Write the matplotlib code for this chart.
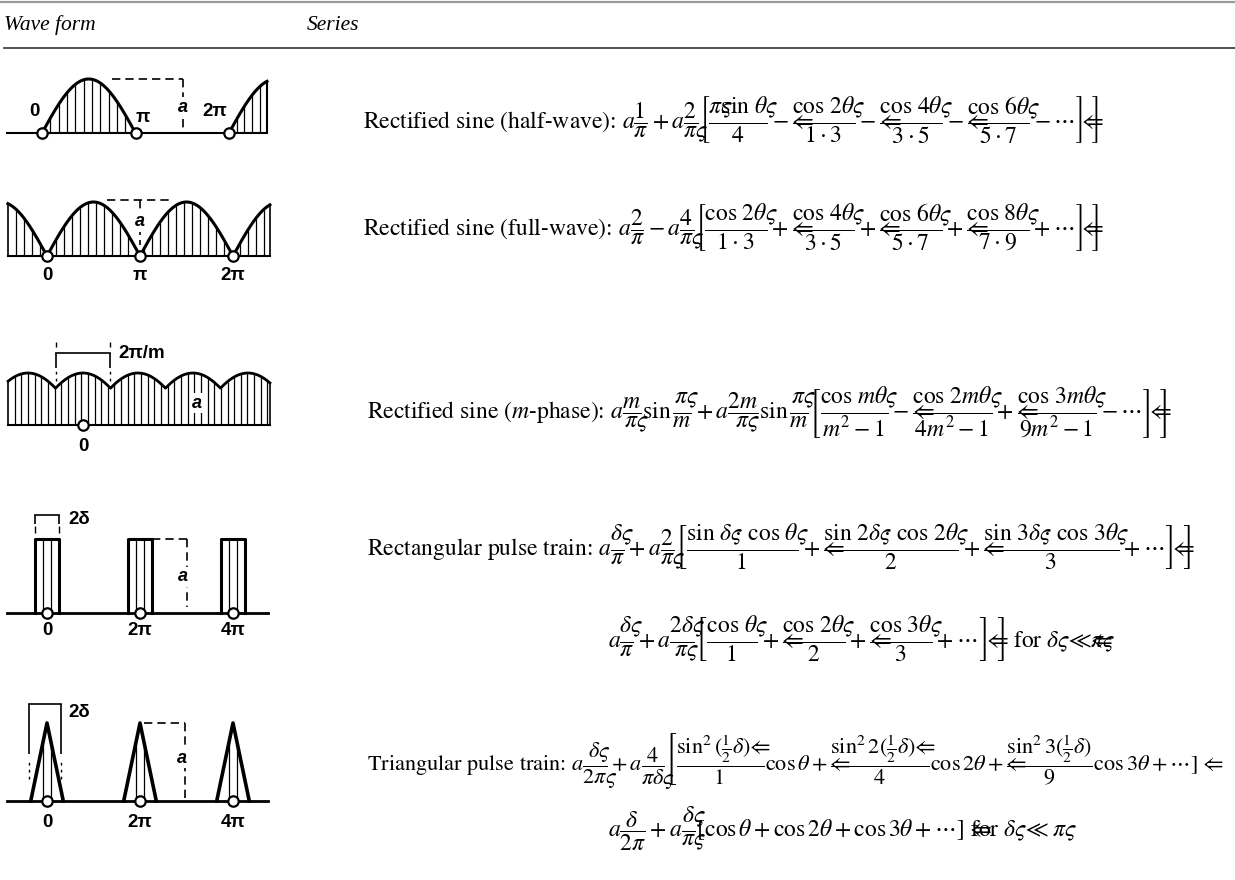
import numpy as np
import matplotlib.pyplot as plt

plt.rcParams['mathtext.fontset'] = 'stix'
plt.rcParams['font.family'] = ['STIXGeneral', 'DejaVu Serif']

W, H = 1235, 880

# ---- table text ----
headers = ['Wave form', 'Series']

S = r'\varsigma\hspace{-0.6}'          # stray ς, printed over the next sign
A = r'⇐\hspace{-1.25}'                 # stray ⇐, printed over the next sign
R = r'\right]\hspace{-0.2}⇐\hspace{-0.7}\right]'    # closing ]⇐]

series_lines = [
    r'Rectified sine (half-wave): $a\dfrac{1}{\pi}+a\dfrac{2}{\pi' + S + r'}\left.\left[\dfrac{\pi' + S
    + r'\sin\,\theta' + S + r'}{4}-' + A + r'\dfrac{\cos\,2\theta' + S + r'}{1\cdot 3}-' + A
    + r'\dfrac{\cos\,4\theta' + S + r'}{3\cdot 5}-' + A + r'\dfrac{\cos\,6\theta' + S
    + r'}{5\cdot 7}-\cdots' + R + '$',

    r'Rectified sine (full-wave): $a\dfrac{2}{\pi}-a\dfrac{4}{\pi' + S + r'}\left.\left[\dfrac{\cos\,2\theta' + S
    + r'}{1\cdot 3}+' + A + r'\dfrac{\cos\,4\theta' + S + r'}{3\cdot 5}+' + A + r'\dfrac{\cos\,6\theta' + S
    + r'}{5\cdot 7}+' + A + r'\dfrac{\cos\,8\theta' + S + r'}{7\cdot 9}+\cdots' + R + '$',

    r'Rectified sine ($m$-phase): $a\dfrac{m}{\pi' + S + r'}\sin\dfrac{\pi' + S + r'}{m}+a\dfrac{2m}{\pi' + S
    + r'}\sin\dfrac{\pi' + S + r'}{m}\left.\left[\dfrac{\cos\,m\theta' + S + r'}{m^2-1}-' + A
    + r'\dfrac{\cos\,2m\theta' + S + r'}{4m^2-1}+' + A + r'\dfrac{\cos\,3m\theta' + S
    + r'}{9m^2-1}-\cdots' + R + '$',

    r'Rectangular pulse train: $a\dfrac{\delta' + S + r'}{\pi}+a\dfrac{2}{\pi' + S + r'}\left.\left[\dfrac{\sin\,\delta'
    + S + r'\cdot\,\cos\,\theta' + S + r'}{1}+' + A + r'\dfrac{\sin\,2\delta' + S + r'\cdot\,\cos\,2\theta' + S
    + r'}{2}+' + A + r'\dfrac{\sin\,3\delta' + S + r'\cdot\,\cos\,3\theta' + S + r'}{3}+\cdots' + R + '$',

    r'$a\dfrac{\delta' + S + r'}{\pi}+a\dfrac{2\delta' + S + r'}{\pi' + S + r'}\left.\left[\dfrac{\cos\,\theta' + S
    + r'}{1}+' + A + r'\dfrac{\cos\,2\theta' + S + r'}{2}+' + A + r'\dfrac{\cos\,3\theta' + S
    + r'}{3}+\cdots' + R + r'$ for $\delta\varsigma≪' + A + r'\pi\varsigma$',

    r'Triangular pulse train: $a\dfrac{\delta' + S + r'}{2\pi' + S + r'}+a\dfrac{4}{\pi\delta' + S
    + r'}\left[\dfrac{\sin^2(\frac{1}{2}\delta)⇐\hspace{-0.5}}{1}\cos\theta+' + A
    + r'\dfrac{\sin^2 2(\frac{1}{2}\delta)⇐\hspace{-0.5}}{4}\cos 2\theta+' + A
    + r'\dfrac{\sin^2 3(\frac{1}{2}\delta)}{9}\cos 3\theta+\cdots\right.]\ ⇐$',

    r'$a\dfrac{\delta}{2\pi}+a\dfrac{\delta' + S + r'}{\pi' + S
    + r'}[\cos\theta+\cos 2\theta+\cos 3\theta+\cdots]\ ' + A + r'$for $\delta\varsigma≪\ \pi\varsigma$',
]
series_x = [363, 363, 367, 367, 608, 367, 608]
series_y = [129, 236, 419, 556, 648, 770, 837]
series_fs = [17, 17, 17, 17, 17, 16, 17]

# tick labels of the wave forms
half_lbl = ['0', 'π', '2π']
full_lbl = ['0', 'π', '2π']
mph_lbl = ['0']
pulse_lbl = ['0', '2π', '4π']
tri_lbl = ['0', '2π', '4π']

m_phase = 4
rect_delta = 0.78
tri_delta = 1.1

fig = plt.figure(figsize=(12.35, 8.8), dpi=100)
fig.patch.set_facecolor('white')

bg = fig.add_axes([0, 0, 1, 1])
bg.set_xlim(0, W)
bg.set_ylim(H, 0)
bg.axis('off')

# header rules
bg.plot([0, W], [2, 2], color='#9a9a9a', lw=1.6)
bg.plot([4, W], [48, 48], color='#333333', lw=1.2)
bg.text(4, 25, headers[0], fontsize=15.5, style='italic', va='center',
        family=['Liberation Serif'])
bg.text(307, 25, headers[1], fontsize=15.5, style='italic', va='center',
        family=['Liberation Serif'])

for s, x, y, fs in zip(series_lines, series_x, series_y, series_fs):
    bg.text(x, y, s, fontsize=fs, va='baseline', ha='left')


def wave_ax(top, bottom, x0, unit, base, amp):
    # axes placed in pixel terms, data in radians / amplitude
    ax = fig.add_axes([0, 1 - bottom / H, 290 / W, (bottom - top) / H])
    ax.set_xlim(-x0 / unit, (290 - x0) / unit)
    ax.set_ylim((base - bottom) / amp, (base - top) / amp)
    ax.axis('off')
    return ax


lbl_kw = dict(family=['Liberation Sans', 'DejaVu Sans'], fontweight='bold',
              fontsize=13.5, ha='center', va='center')
a_kw = dict(family=['Liberation Sans', 'DejaVu Sans'], fontweight='bold',
            style='italic', fontsize=13, ha='center', va='center',
            bbox=dict(facecolor='white', edgecolor='none', pad=1))
circ_kw = dict(marker='o', ms=7.5, mfc='white', mec='black', mew=1.6,
               ls='none', zorder=5)
pi = np.pi

# ---- 1: half-wave ----
ax = wave_ax(55, 165, 42, 93.5 / pi, 133, 54)
end1 = 7.56
t = np.linspace(0, pi, 200)
ax.plot(t, np.sin(t), 'k', lw=2.2)
t = np.linspace(2 * pi, end1, 100)
ax.plot(t, np.sin(t), 'k', lw=2.2)
ax.plot([-1.18, end1], [0, 0], 'k', lw=1.5)
ax.vlines(end1, 0, np.sin(end1), color='k', lw=1.5)
h = np.arange(0.28, pi, 0.28)
ax.vlines(h, 0, np.sin(h), color='k', lw=0.9)
h = np.arange(2 * pi + 0.26, end1, 0.26)
ax.vlines(h, 0, np.sin(h), color='k', lw=0.9)
ax.plot([2.35, 4.74], [1, 1], 'k', ls=(0, (5, 3)), lw=1.2)
ax.plot([4.74, 4.74], [1, 0.1], 'k', ls=(0, (5, 3)), lw=1.2)
ax.text(4.72, 0.48, 'a', **a_kw)
ax.plot([0, pi, 2 * pi], [0, 0, 0], **circ_kw)
ax.text(-0.24, 0.4, half_lbl[0], **lbl_kw)
ax.text(3.4, 0.28, half_lbl[1], **lbl_kw)
ax.text(5.8, 0.4, half_lbl[2], **lbl_kw)

# ---- 2: full-wave ----
ax = wave_ax(185, 290, 47, 93 / pi, 256, 54)
x_l, x_r = -1.32, 7.53
t = np.linspace(x_l, x_r, 800)
ax.plot(t, np.abs(np.sin(t)), 'k', lw=2.2)
ax.plot([x_l, x_r], [0, 0], 'k', lw=1.5)
ax.vlines([x_l, x_r], 0, np.abs(np.sin([x_l, x_r])), color='k', lw=1.2)
h = np.arange(x_l + 0.27, x_r, 0.27)
ax.vlines(h, 0, np.abs(np.sin(h)), color='k', lw=0.9)
ax.plot([2.03, 4.22], [1.04, 1.04], 'k', ls=(0, (5, 3)), lw=1.2)
ax.plot([pi, pi], [1.04, 0.2], 'k', ls=(0, (5, 3)), lw=1.2)
ax.text(pi, 0.63, 'a', **a_kw)
ax.plot([0, pi, 2 * pi], [0, 0, 0], **circ_kw)
for xx, s in zip([0, pi, 2 * pi], full_lbl):
    ax.text(xx, -0.37, s, **lbl_kw)

# ---- 3: m-phase ----
ax = wave_ax(330, 455, 83, 35, 425, 52)
x_l, x_r = -2.14, 5.34
per = 2 * pi / m_phase
t = np.linspace(x_l, x_r, 1200)
env = np.cos((t + per / 2) % per - per / 2)
ax.plot(t, env, 'k', lw=2.0)
ax.plot([x_l, x_r], [0, 0], 'k', lw=1.5)
e = np.cos((np.array([x_l, x_r]) + per / 2) % per - per / 2)
ax.vlines([x_l, x_r], 0, e, color='k', lw=1.2)
h = np.arange(x_l + 0.19, x_r, 0.19)
ax.vlines(h, 0, np.cos((h + per / 2) % per - per / 2), color='k', lw=0.9)
ax.plot([-per / 2, per / 2], [1.385, 1.385], 'k', lw=1.2)
ax.vlines([-per / 2, per / 2], 1.1, 1.385, color='k', lw=1.2)
ax.vlines([-per / 2, per / 2], 0.85, 1.1, color='k', lw=1.0, linestyles=(0, (2, 3)))
ax.vlines([-per / 2, per / 2], 1.5, 1.6, color='k', lw=1.0)
ax.text(1.0, 1.37, '2π/m', family=['Liberation Sans', 'DejaVu Sans'],
        fontweight='bold', fontsize=13.5, ha='left', va='center')
ax.text(3.26, 0.42, 'a', **a_kw)
ax.plot([0], [0], **circ_kw)
ax.text(0, -0.42, mph_lbl[0], **lbl_kw)

# ---- 4: rectangular pulse train ----
unit = 93 / (2 * pi)
ax = wave_ax(500, 645, 47, unit, 613, 74)
x_l, x_r = -2.7, 14.93
centres = [0, 2 * pi, 4 * pi]
d = rect_delta
ax.plot([x_l, x_r], [0, 0], 'k', lw=2.0)
for c in centres:
    ax.plot([c - d, c - d, c + d, c + d], [0, 1, 1, 0], 'k', lw=2.2)
    ax.vlines([c - d / 3, c + d / 3], 0, 1, color='k', lw=0.9)
ax.plot([-d, d], [1.32, 1.32], 'k', lw=1.2)
ax.vlines([-d, d], 1.2, 1.32, color='k', lw=1.2)
ax.vlines([-d, d], 1.08, 1.18, color='k', lw=1.0)
ax.text(1.42, 1.26, '2δ', family=['Liberation Sans', 'DejaVu Sans'],
        fontweight='bold', fontsize=13.5, ha='left', va='center')
ax.plot([2 * pi + d, 9.46], [1, 1], 'k', ls=(0, (5, 3)), lw=1.2)
ax.plot([9.46, 9.46], [1, 0.08], 'k', ls=(0, (5, 3)), lw=1.2)
ax.text(9.2, 0.49, 'a', **a_kw)
ax.plot(centres, [0, 0, 0], **circ_kw)
for xx, s in zip(centres, pulse_lbl):
    ax.text(xx, -0.24, s, **lbl_kw)

# ---- 5: triangular pulse train ----
ax = wave_ax(680, 850, 47, unit, 801, 78)
d = tri_delta
ax.plot([x_l, x_r], [0, 0], 'k', lw=2.0)
for c in centres:
    ax.plot([c - d, c, c + d], [0, 1, 0], 'k', lw=2.6)
    hv = np.array([c - d / 4, c + d / 4])
    ax.vlines(hv, 0, 1 - np.abs(hv - c) / d, color='k', lw=0.9)
ax.plot([-1.22, 0.95], [1.24, 1.24], 'k', lw=1.2)
ax.vlines([-1.22, 0.95], 0.6, 1.24, color='k', lw=1.2)
ax.vlines([-1.22, 0.95], 0.28, 0.5, color='k', lw=1.0, linestyles=(0, (2, 3)))
ax.text(1.42, 1.14, '2δ', family=['Liberation Sans', 'DejaVu Sans'],
        fontweight='bold', fontsize=13.5, ha='left', va='center')
ax.plot([2 * pi + 0.3, 9.32], [1, 1], 'k', ls=(0, (5, 3)), lw=1.2)
ax.plot([9.32, 9.32], [1, 0.03], 'k', ls=(0, (5, 3)), lw=1.2)
ax.text(9.12, 0.55, 'a', **a_kw)
ax.plot(centres, [0, 0, 0], **circ_kw)
for xx, s in zip(centres, tri_lbl):
    ax.text(xx, -0.28, s, **lbl_kw)

fig.savefig('out.png', dpi=100, facecolor='white')
